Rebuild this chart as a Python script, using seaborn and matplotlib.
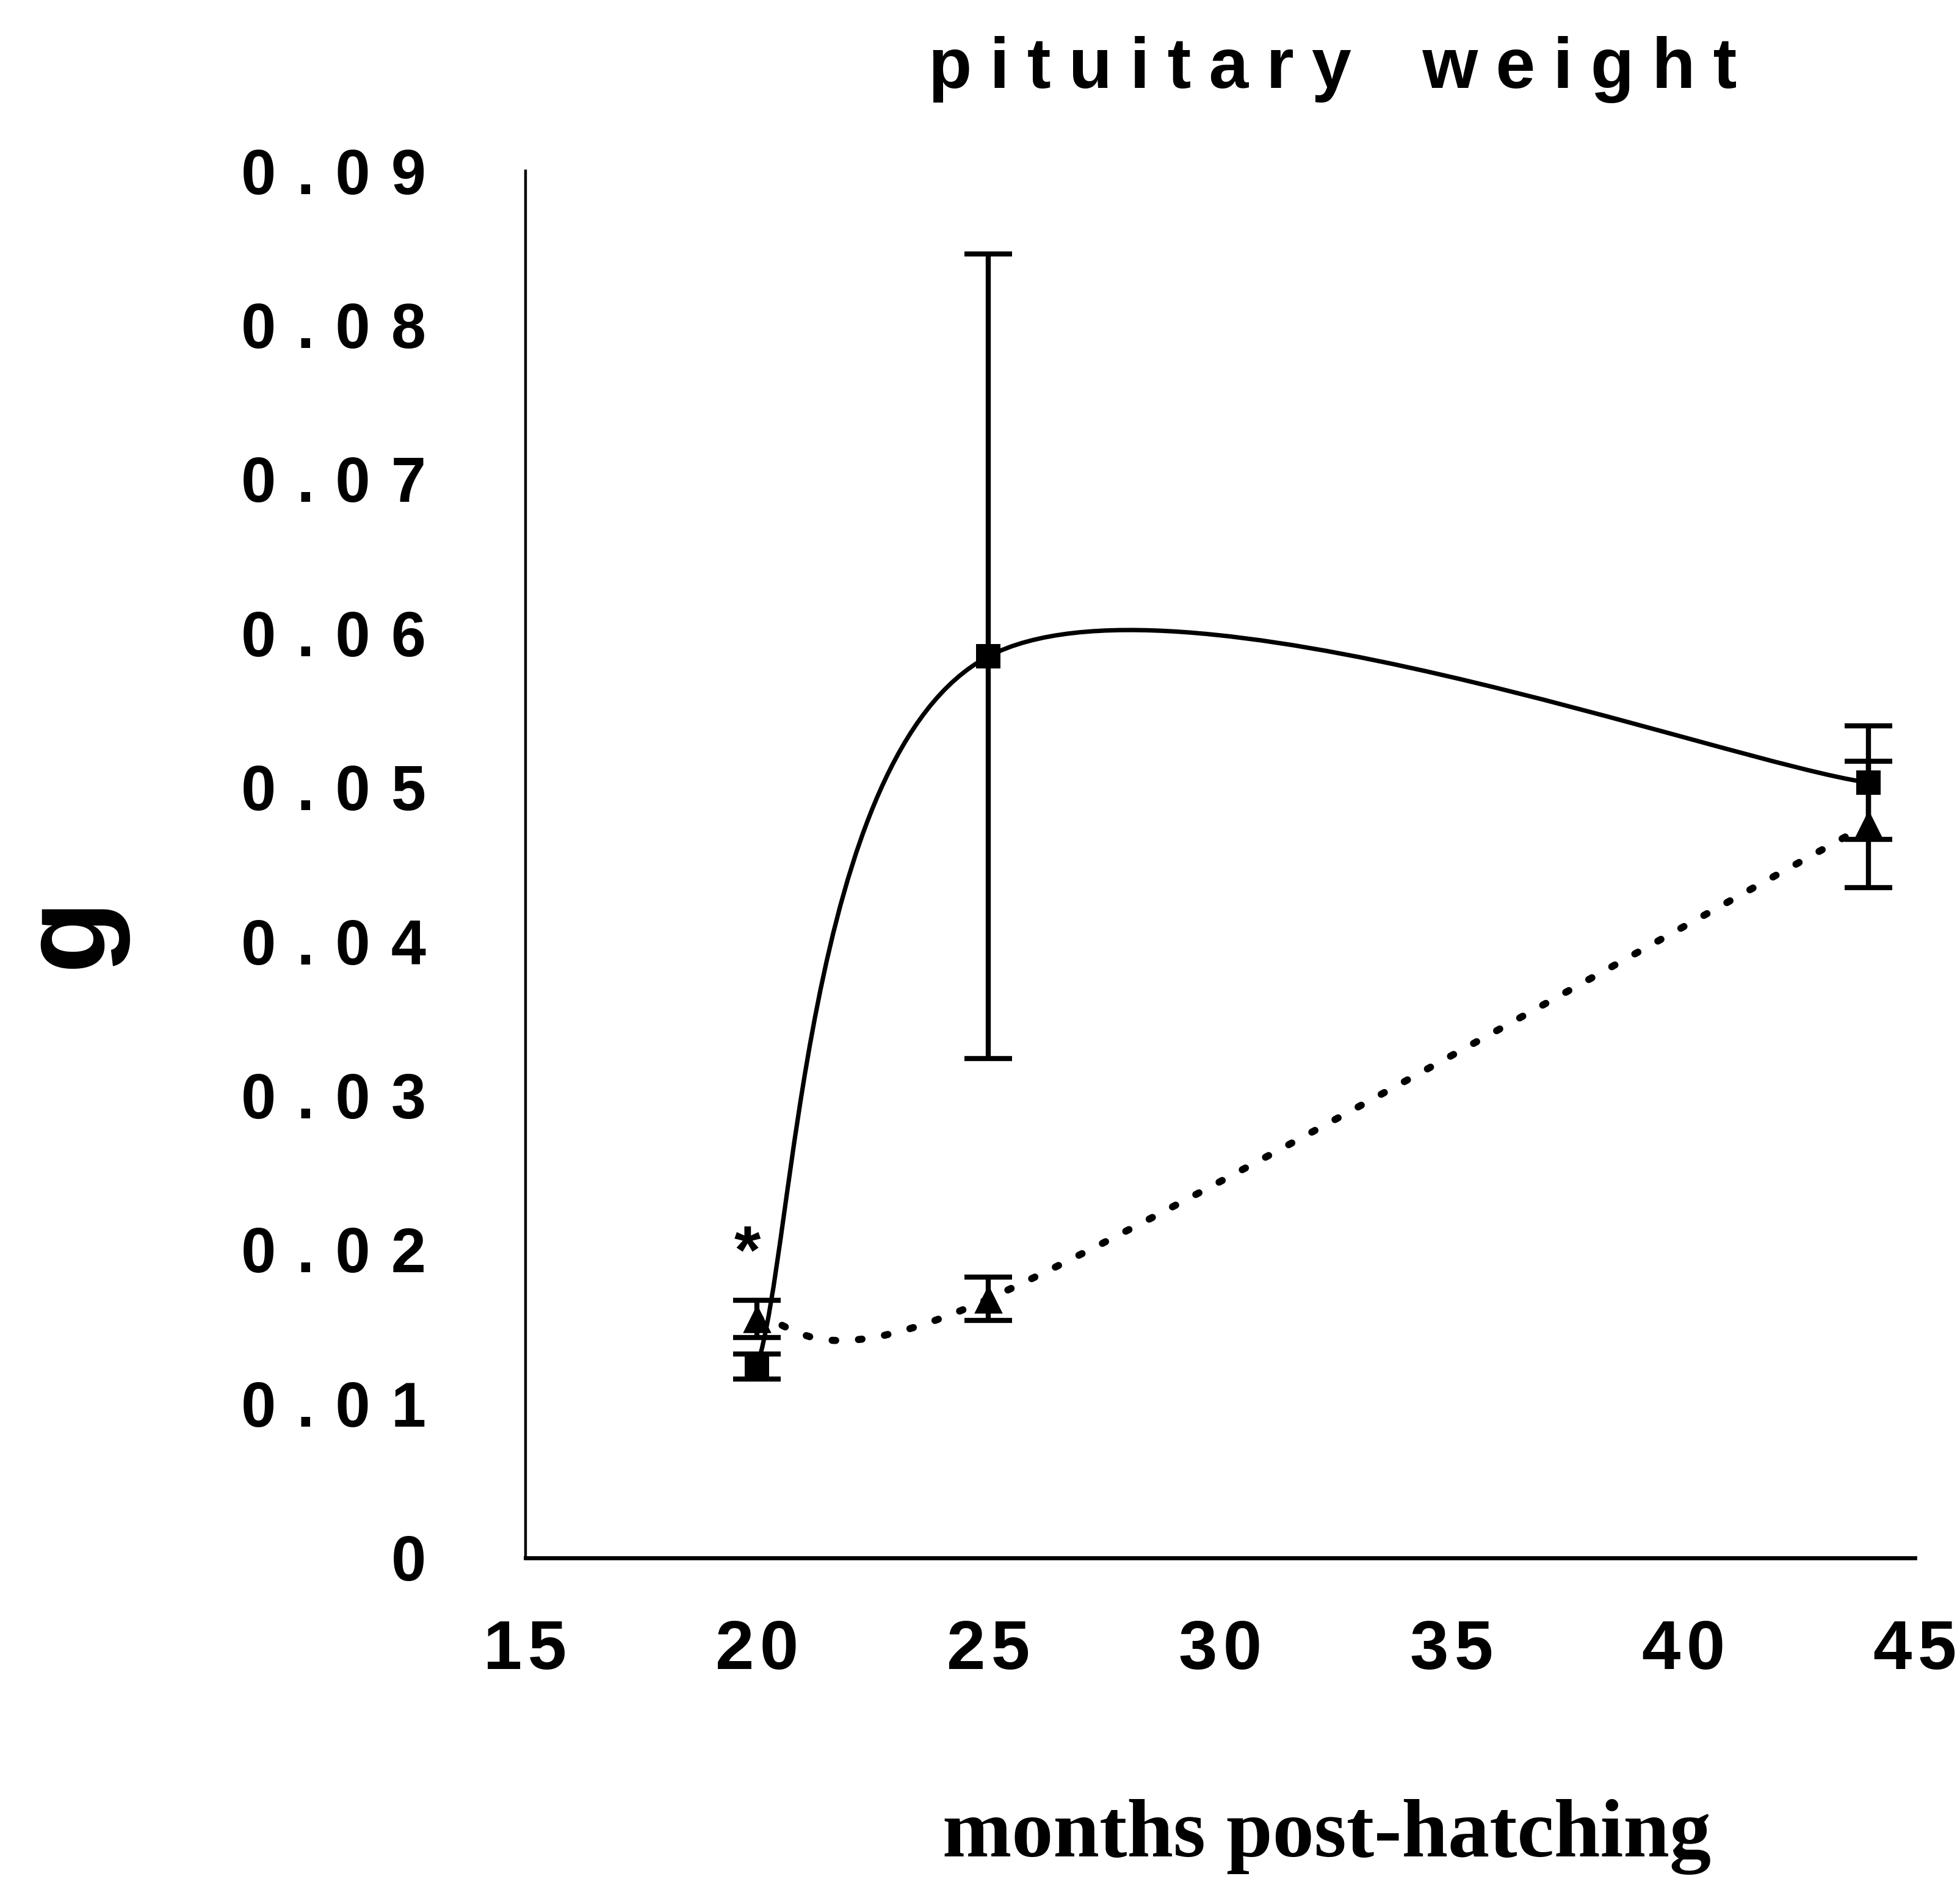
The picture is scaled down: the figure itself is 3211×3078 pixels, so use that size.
import numpy as np
import matplotlib
matplotlib.use("Agg")
import matplotlib.pyplot as plt
import seaborn as sns
from matplotlib.path import Path
from matplotlib.patches import PathPatch

# ---- data ----
months = [20, 25, 44]
square_mean = [0.0124, 0.0585, 0.0503]
square_err = [0.0008, 0.0261, 0.0037]
triangle_mean = [0.0155, 0.0168, 0.0476]
triangle_err = [0.0012, 0.0014, 0.0041]
x_ticks = [15, 20, 25, 30, 35, 40, 45]
y_ticks = [0, 0.01, 0.02, 0.03, 0.04, 0.05, 0.06, 0.07, 0.08, 0.09]
y_tick_labels = ["0", "0.01", "0.02", "0.03", "0.04", "0.05", "0.06", "0.07", "0.08", "0.09"]
x_tick_labels = ["15", "20", "25", "30", "35", "40", "45"]
title_text = "pituitary weight"
x_label = "months post-hatching"
y_label = "g"
star_text = "*"
star_pos = (19.8, 0.0196)

sns.set_style("white")
plt.rcParams["font.family"] = ["Liberation Sans", "DejaVu Sans"]
plt.rcParams["text.color"] = "black"
plt.rcParams["axes.labelcolor"] = "black"
plt.rcParams["xtick.color"] = "black"
plt.rcParams["ytick.color"] = "black"

SP = "\u2004"
SP_N = "\u2005"


def spaced(s, sp=SP):
    return sp.join(list(s))


fig = plt.figure(figsize=(16.055, 15.39), dpi=200)
ax = fig.add_axes([0.268, 0.171, 0.709, 0.738])
ax.set_xlim(15, 45)
ax.set_ylim(0, 0.09)


def excel_smooth(ax, xs, ys):
    pts = ax.transData.transform(np.column_stack([xs, ys]))
    n = len(pts)
    verts = [pts[0]]
    codes = [Path.MOVETO]
    for i in range(n - 1):
        p0 = pts[i - 1] if i > 0 else pts[i]
        p1 = pts[i]
        p2 = pts[i + 1]
        p3 = pts[i + 2] if i + 2 < n else pts[i + 1]
        c1 = p1 + (p2 - p0) / 6.0
        c2 = p2 - (p3 - p1) / 6.0
        verts += [c1, c2, p2]
        codes += [Path.CURVE4] * 3
    vd = ax.transData.inverted().transform(np.array(verts))
    return Path(vd, codes)


solid = PathPatch(excel_smooth(ax, months, square_mean), facecolor="none",
                  edgecolor="black", lw=2.6, zorder=2)
ax.add_patch(solid)
dotted = PathPatch(excel_smooth(ax, months, triangle_mean), facecolor="none",
                   edgecolor="black", lw=4.2, zorder=2, capstyle="round")
dotted.set_linestyle((0, (0.5, 3.2)))
ax.add_patch(dotted)

ax.errorbar(months, square_mean, yerr=square_err, fmt="none", ecolor="black",
            elinewidth=3.0, capsize=14, capthick=3.0, zorder=3)
ax.errorbar(months, triangle_mean, yerr=triangle_err, fmt="none", ecolor="black",
            elinewidth=3.0, capsize=14, capthick=3.0, zorder=3)
sns.scatterplot(x=months, y=square_mean, marker="s", s=200, color="black",
                edgecolor="black", linewidth=0, ax=ax, zorder=4)
sns.scatterplot(x=months, y=triangle_mean, marker="^", s=280, color="black",
                edgecolor="black", linewidth=0, ax=ax, zorder=4)

ax.text(star_pos[0], star_pos[1], star_text, fontsize=40, fontweight="bold",
        ha="center", va="center")

for side in ["top", "right"]:
    ax.spines[side].set_visible(False)
ax.spines["left"].set_linewidth(1.6)
ax.spines["bottom"].set_linewidth(2.4)
ax.spines["left"].set_color("black")
ax.spines["bottom"].set_color("black")

ax.set_yticks(y_ticks)
ax.set_yticklabels([spaced(t) for t in y_tick_labels])
ax.set_xticks(x_ticks)
ax.set_xticklabels([spaced(t, "\u200a") for t in x_tick_labels])
ax.tick_params(axis="y", direction="inout", length=37, width=1.6, pad=40,
               labelsize=37, colors="black")
ax.tick_params(axis="x", direction="in", length=15, width=1.6, pad=36,
               labelsize=41, colors="black")
for lab in ax.get_yticklabels() + ax.get_xticklabels():
    lab.set_fontweight("bold")

fig.text(0.680, 0.963, spaced("pituitary", SP_N) + SP * 3 + spaced("weight", SP_N),
         fontsize=42, fontweight="bold", ha="center", va="center")
fig.text(0.036, 0.504, y_label, fontsize=70, fontweight="bold", rotation=90,
         ha="center", va="center")
fig.text(0.677, 0.012, x_label, fontsize=49, fontweight="bold",
         family=["Liberation Serif", "DejaVu Serif"], ha="center", va="baseline")

fig.savefig("out.png", dpi=200, facecolor="white")
